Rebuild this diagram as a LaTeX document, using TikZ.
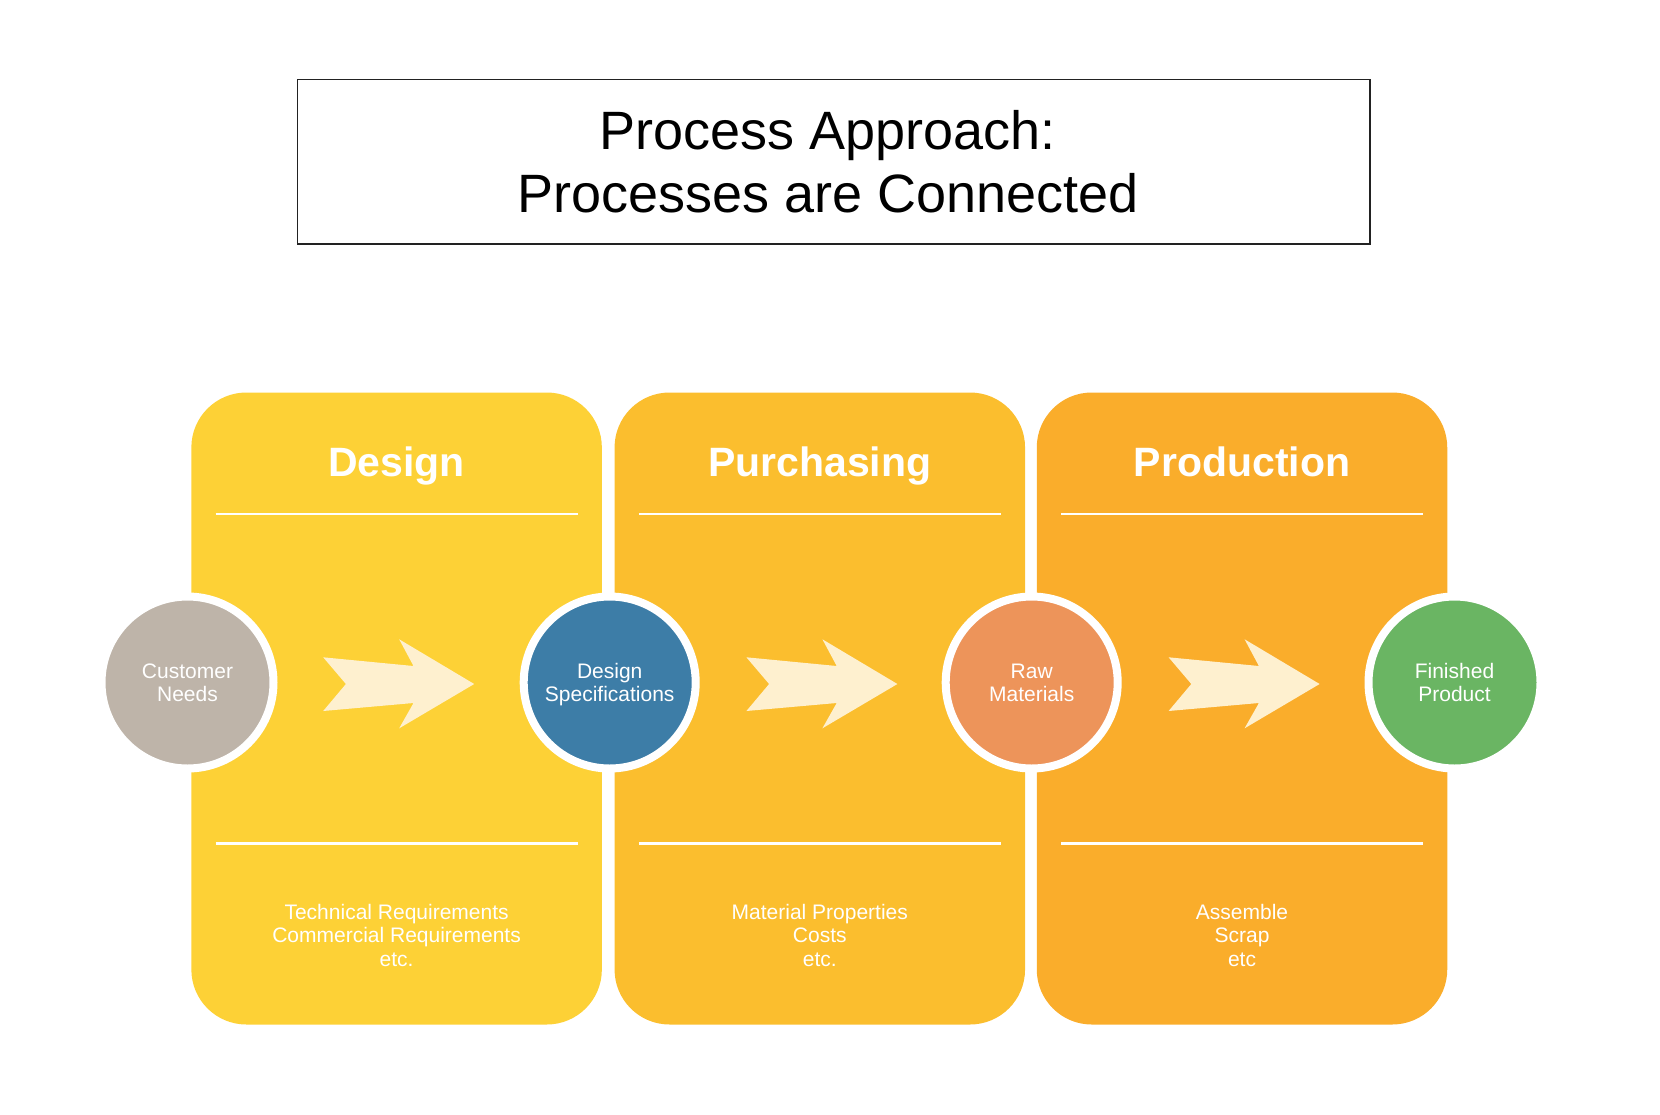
\documentclass[tikz,border=0pt]{standalone}
\usepackage{fontspec}
\setmainfont{Liberation Sans}
\definecolor{cDesign}{HTML}{FDD136}
\definecolor{cPurch}{HTML}{FBBE2E}
\definecolor{cProd}{HTML}{FAAD2B}
\definecolor{cArrow}{HTML}{FEF0CF}
\definecolor{cGray}{HTML}{BEB4A9}
\definecolor{cBlue}{HTML}{3D7DA7}
\definecolor{cOrange}{HTML}{ED945A}
\definecolor{cGreen}{HTML}{6AB563}
\definecolor{cFrame}{HTML}{222222}
\begin{document}
\begin{tikzpicture}[x=1pt,y=-1pt,
  titlebox/.style={draw=cFrame,line width=1.4pt,minimum width=1072.7pt,minimum height=164.7pt,inner sep=0pt},
  titletext/.style={inner sep=0pt,align=center,font=\fontsize{54}{63.5}\selectfont},
  panel/.style={rectangle,rounded corners=55pt,minimum width=410.5pt,minimum height=632pt,inner sep=0pt,draw=none},
  headtext/.style={anchor=base,text=white,font=\bfseries\fontsize{41}{48}\selectfont,inner sep=0pt},
  foottext/.style={text=white,align=center,inner sep=0pt,font=\fontsize{21}{23.8}\selectfont},
  sepline/.style={draw=white,line width=2.6pt},
  proc/.style={circle,draw=white,line width=8pt,minimum size=172pt,inner sep=0pt,text depth=0pt,text=white,align=center,font=\fontsize{21}{23}\selectfont},
  chevarrow/.pic={\fill[cArrow] (-74.3,-26.7) -- (16,-18) -- (1.7,-44.7) -- (76.7,0) -- (1.7,44.3) -- (16,19) -- (-74.3,27) -- (-51.6,0) -- cycle;}
]
\path[use as bounding box] (0,0) rectangle (1660,1114);

% title
\node[titlebox] (title) at (833.7,161.7) {};
\node[titletext] (titlelbl) at (827.7,161.7) {Process Approach:\\Processes are Connected};

% panels
\node[panel,fill=cDesign] (pdesign) at (396.6,708.5) {};
\node[panel,fill=cPurch] (ppurch) at (819.8,708.5) {};
\node[panel,fill=cProd] (pprod) at (1242,708.5) {};

% headers
\node[headtext] (hdesign) at (396.6,476.7) {Design};
\node[headtext] (hpurch) at (819.8,476.7) {Purchasing};
\node[headtext] (hprod) at (1242,476.7) {Production};

% separator lines
\foreach \cx/\nm in {396.6/a,819.8/b,1242/c}{
  \coordinate (tl\nm) at (\cx-181,514);
  \coordinate (tr\nm) at (\cx+181,514);
  \coordinate (bl\nm) at (\cx-181,843.3);
  \coordinate (br\nm) at (\cx+181,843.3);
  \draw[sepline] (tl\nm) -- (tr\nm);
  \draw[sepline] (bl\nm) -- (br\nm);
}

% footer texts
\node[foottext] (fdesign) at (396.6,935.3) {Technical Requirements\\Commercial Requirements\\etc.};
\node[foottext] (fpurch) at (819.8,935.3) {Material Properties\\Costs\\etc.};
\node[foottext] (fprod) at (1242,935.3) {Assemble\\Scrap\\etc};

% arrows
\pic at (397.5,684) {chevarrow};
\pic at (820.7,684) {chevarrow};
\pic at (1242.9,684) {chevarrow};

% circles
\node[proc,fill=cGray] (cust) at (187.5,682.5) {Customer\\Needs};
\node[proc,fill=cBlue] (spec) at (609.7,682.5) {Design\\Specifications};
\node[proc,fill=cOrange] (raw) at (1031.7,682.5) {Raw\\Materials};
\node[proc,fill=cGreen] (fin) at (1454.5,682.5) {Finished\\Product};
\end{tikzpicture}
\end{document}
